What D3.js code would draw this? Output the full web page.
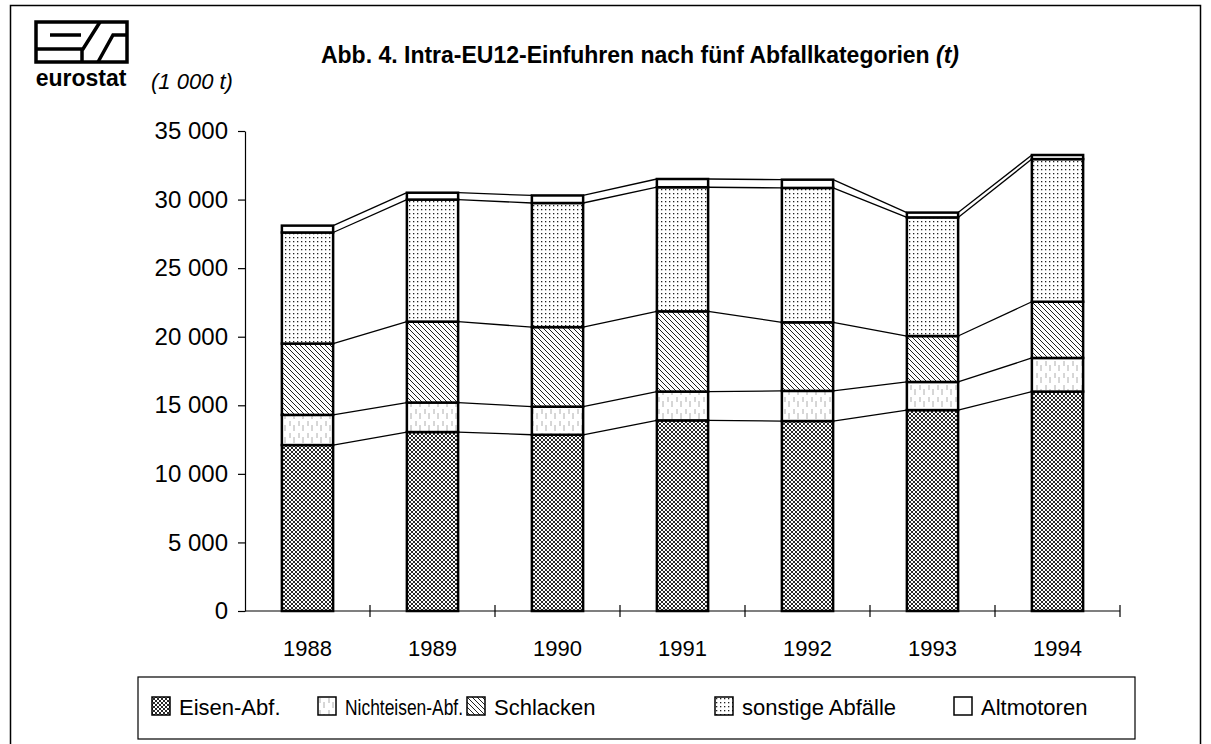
<!DOCTYPE html>
<html>
<head>
<meta charset="utf-8">
<script src="https://cdn.jsdelivr.net/npm/d3@7"></script>
<style>
  body { margin: 0; background: #fff; }
  text { font-family: "Liberation Sans", Arial, sans-serif; fill: #000; }
</style>
</head>
<body>
<div id="chart"></div>
<script>
// Daten (1 000 t)
const years = ['1988', '1989', '1990', '1991', '1992', '1993', '1994']
const series = ['Eisen-Abf.', 'Nichteisen-Abf.', 'Schlacken', 'sonstige Abfälle', 'Altmotoren']
const eisen = [12100, 13050, 12850, 13900, 13850, 14650, 16000]
const nichteisen = [2200, 2150, 2050, 2100, 2200, 2050, 2450]
const schlacken = [5200, 5900, 5800, 5850, 5000, 3350, 4100]
const sonstige = [8100, 8900, 9050, 9050, 9800, 8650, 10400]
const altmotoren = [500, 500, 550, 600, 600, 350, 300]
const yTicks = [0, 5000, 10000, 15000, 20000, 25000, 30000, 35000]

const width = 1211
const height = 744
const font = '"Liberation Sans", Arial, sans-serif'

const svg = d3.select('#chart').append('svg')
  .attr('width', width)
  .attr('height', height)

// Muster
const defs = svg.append('defs')
const pEisen = defs.append('pattern').attr('id', 'p0')
  .attr('patternUnits', 'userSpaceOnUse').attr('width', 4).attr('height', 4)
pEisen.append('rect').attr('width', 4).attr('height', 4).attr('fill', '#fff')
pEisen.append('path').attr('d', 'M-1,-1L5,5M5,-1L-1,5')
  .attr('stroke', '#111').attr('stroke-width', 0.9)

const pNicht = defs.append('pattern').attr('id', 'p1')
  .attr('patternUnits', 'userSpaceOnUse').attr('width', 9).attr('height', 12)
pNicht.append('rect').attr('width', 9).attr('height', 12).attr('fill', '#fff')
pNicht.append('path').attr('d', 'M2,1V6M6,5V11')
  .attr('stroke', '#999').attr('stroke-width', 0.8)

const pSchl = defs.append('pattern').attr('id', 'p2')
  .attr('patternUnits', 'userSpaceOnUse').attr('width', 5).attr('height', 5)
pSchl.append('rect').attr('width', 5).attr('height', 5).attr('fill', '#fff')
pSchl.append('path').attr('d', 'M-1,-1L6,6M4,-1L6,1M-1,4L1,6')
  .attr('stroke', '#222').attr('stroke-width', 1)

const pSonst = defs.append('pattern').attr('id', 'p3')
  .attr('patternUnits', 'userSpaceOnUse').attr('width', 4).attr('height', 4)
pSonst.append('rect').attr('width', 4).attr('height', 4).attr('fill', '#fff')
pSonst.append('rect').attr('x', 1).attr('y', 1).attr('width', 1.3).attr('height', 1.3).attr('fill', '#222')

const fills = ['url(#p0)', 'url(#p1)', 'url(#p2)', 'url(#p3)', '#fff']

// Rahmen
svg.append('rect')
  .attr('x', 10.5).attr('y', 5.5)
  .attr('width', 1190).attr('height', 745)
  .attr('fill', 'none').attr('stroke', '#000').attr('stroke-width', 1.5)

// Logo
const logo = svg.append('g').attr('fill', 'none').attr('stroke', '#000').attr('stroke-width', 3.5)
logo.append('rect').attr('x', 36).attr('y', 22).attr('width', 91).attr('height', 40)
logo.append('path').attr('d', 'M50,35H81M36,49H83L100,22M82,49V62M98,62L113,35H127')
svg.append('text').attr('x', 81).attr('y', 86)
  .attr('text-anchor', 'middle')
  .style('font-size', '23px').style('font-weight', 'bold')
  .text('eurostat')

// Titel
const title = svg.append('text')
  .attr('x', 640).attr('y', 63)
  .attr('text-anchor', 'middle')
  .style('font-size', '23px').style('font-weight', 'bold')
title.append('tspan').text('Abb. 4. Intra-EU12-Einfuhren nach fünf Abfallkategorien ')
title.append('tspan').style('font-style', 'italic').text('(t)')

svg.append('text').attr('x', 151).attr('y', 89)
  .style('font-size', '22px').style('font-style', 'italic')
  .text('(1 000 t)')

// Skalen
const x = d3.scaleBand().domain(years).range([245, 1120])
  .paddingInner(0.59).paddingOuter(0.295)
const y = d3.scaleLinear().domain([0, 35000]).range([611, 131])

const table = years.map((yr, i) => ({
  year: yr,
  'Eisen-Abf.': eisen[i],
  'Nichteisen-Abf.': nichteisen[i],
  'Schlacken': schlacken[i],
  'sonstige Abfälle': sonstige[i],
  'Altmotoren': altmotoren[i]
}))
const stacked = d3.stack().keys(series)(table)

// Verbindungslinien
stacked.forEach(layer => {
  for (let i = 0; i < years.length - 1; i++) {
    svg.append('line')
      .attr('x1', x(years[i]) + x.bandwidth())
      .attr('y1', y(layer[i][1]))
      .attr('x2', x(years[i + 1]))
      .attr('y2', y(layer[i + 1][1]))
      .attr('stroke', '#000').attr('stroke-width', 1.3)
  }
})

// Balken
const groups = svg.selectAll('.layer').data(stacked).enter()
  .append('g').attr('class', 'layer')
  .attr('fill', (d, i) => fills[i])
groups.selectAll('rect').data(d => d).enter().append('rect')
  .attr('x', d => x(d.data.year))
  .attr('y', d => y(d[1]))
  .attr('width', x.bandwidth())
  .attr('height', d => y(d[0]) - y(d[1]))
  .attr('stroke', '#000').attr('stroke-width', 2.5)

// Y-Achse
const fmt = d3.format(',')
const yAxis = svg.append('g').attr('transform', 'translate(245,0)')
  .call(d3.axisLeft(y).tickValues(yTicks).tickSize(7).tickSizeOuter(0).tickPadding(10)
    .tickFormat(d => fmt(d).replace(/,/g, ' ')))
yAxis.selectAll('text').style('font-size', '24px').style('font-family', font)
yAxis.selectAll('line, path').attr('stroke', '#000').attr('stroke-width', 1.2)

// X-Achse
const xAxis = svg.append('g').attr('transform', 'translate(0,611)')
  .call(d3.axisBottom(x).tickSize(0).tickPadding(29))
xAxis.select('.domain').remove()
xAxis.selectAll('text').style('font-size', '22px').style('font-family', font)
svg.append('line').attr('x1', 245).attr('x2', 1120).attr('y1', 611).attr('y2', 611)
  .attr('stroke', '#000').attr('stroke-width', 1.2)
const step = x.step()
const bounds = years.map(yr => x(yr) + x.bandwidth() / 2 + step / 2)
svg.selectAll('.xtick').data(bounds).enter().append('line')
  .attr('class', 'xtick')
  .attr('x1', d => d).attr('x2', d => d)
  .attr('y1', 605).attr('y2', 617)
  .attr('stroke', '#000').attr('stroke-width', 1.2)

// Legende
svg.append('rect').attr('x', 138).attr('y', 677).attr('width', 997).attr('height', 62)
  .attr('fill', 'none').attr('stroke', '#000').attr('stroke-width', 1.2)
const legendX = [152, 318, 467, 715, 954]
const legendW = [null, 118, null, null, null]
const legend = svg.selectAll('.leg').data(series).enter().append('g')
  .attr('class', 'leg')
  .attr('transform', (d, i) => `translate(${legendX[i]},697)`)
legend.append('rect').attr('width', 18).attr('height', 18)
  .attr('fill', (d, i) => fills[i])
  .attr('stroke', '#000').attr('stroke-width', 1.5)
legend.append('text').attr('x', 27).attr('y', 18)
  .style('font-size', '22px')
  .each(function (d, i) {
    if (legendW[i]) d3.select(this).attr('textLength', legendW[i]).attr('lengthAdjust', 'spacingAndGlyphs')
  })
  .text(d => d)
</script>
</body>
</html>
